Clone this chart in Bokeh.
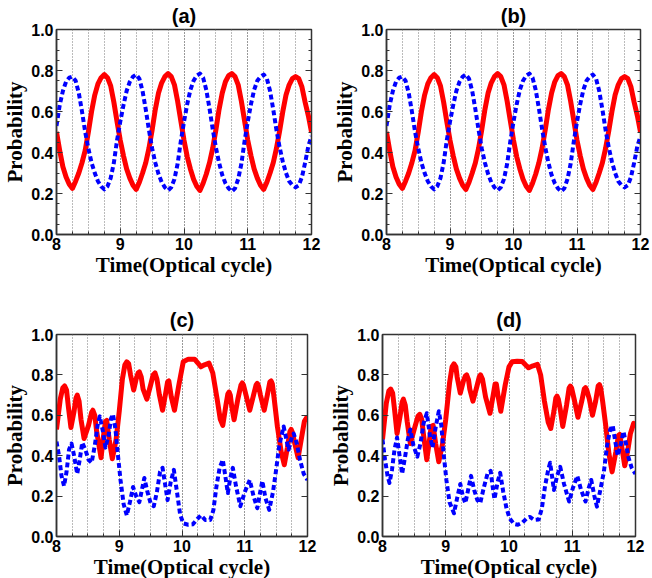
from bokeh.plotting import figure
from bokeh.models import Range1d, SingleIntervalTicker, LinearAxis, PrintfTickFormatter
from bokeh.layouts import column, row
from bokeh.embed import file_html
from bokeh.resources import INLINE

# ---------------- data ----------------
time_ab = [round(8 + 0.05 * i, 2) for i in range(81)]

red_a = [0.50, 0.41, 0.33, 0.28, 0.245, 0.225, 0.26, 0.30, 0.35, 0.41,
         0.50, 0.60, 0.68, 0.735, 0.765, 0.78, 0.765, 0.725, 0.645, 0.55,
         0.46, 0.385, 0.32, 0.275, 0.24, 0.22, 0.255, 0.30, 0.35, 0.42,
         0.51, 0.61, 0.69, 0.74, 0.77, 0.785, 0.77, 0.73, 0.65, 0.555,
         0.46, 0.38, 0.32, 0.27, 0.235, 0.215, 0.25, 0.295, 0.35, 0.42,
         0.51, 0.61, 0.69, 0.745, 0.775, 0.785, 0.77, 0.73, 0.65, 0.555,
         0.46, 0.385, 0.32, 0.275, 0.24, 0.22, 0.255, 0.30, 0.35, 0.42,
         0.505, 0.60, 0.68, 0.73, 0.76, 0.77, 0.76, 0.72, 0.645, 0.58,
         0.50]

blue_a = [0.53, 0.63, 0.70, 0.745, 0.765, 0.77, 0.75, 0.69, 0.60, 0.50,
          0.42, 0.35, 0.30, 0.26, 0.235, 0.22, 0.235, 0.275, 0.35, 0.46,
          0.55, 0.63, 0.70, 0.745, 0.77, 0.78, 0.76, 0.70, 0.61, 0.51,
          0.42, 0.35, 0.295, 0.255, 0.23, 0.215, 0.23, 0.27, 0.345, 0.455,
          0.55, 0.635, 0.705, 0.75, 0.775, 0.785, 0.765, 0.705, 0.615, 0.515,
          0.425, 0.35, 0.29, 0.25, 0.225, 0.21, 0.225, 0.27, 0.345, 0.455,
          0.55, 0.635, 0.705, 0.75, 0.77, 0.78, 0.76, 0.70, 0.61, 0.51,
          0.425, 0.355, 0.30, 0.26, 0.24, 0.23, 0.24, 0.28, 0.35, 0.43,
          0.48]

red_b = list(red_a)
blue_b = list(blue_a)

t_red_c = [8.00, 8.06, 8.10, 8.13, 8.16, 8.19, 8.23, 8.28, 8.31, 8.33, 8.36, 8.39, 8.44, 8.51, 8.56,
           8.58, 8.61, 8.64, 8.71, 8.75, 8.78, 8.80, 8.84, 8.89, 8.95, 9.00, 9.05, 9.09, 9.12, 9.15,
           9.18, 9.23, 9.27, 9.30, 9.32, 9.35, 9.38, 9.44, 9.50, 9.54, 9.57, 9.60, 9.64, 9.69, 9.74,
           9.77, 9.79, 9.83, 9.88, 9.95, 10.02, 10.10, 10.20, 10.25, 10.30, 10.36, 10.43, 10.49,
           10.56, 10.61, 10.65, 10.70, 10.73, 10.75, 10.77, 10.79, 10.83, 10.89, 10.94, 10.96, 10.98,
           11.02, 11.08, 11.14, 11.18, 11.20, 11.22, 11.25, 11.31, 11.36, 11.40, 11.42, 11.44, 11.47,
           11.52, 11.58, 11.63, 11.68, 11.72, 11.74, 11.76, 11.79, 11.85, 11.90, 11.95, 12.00]
red_c = [0.53, 0.68, 0.735, 0.745, 0.725, 0.64, 0.54, 0.62, 0.685, 0.70, 0.67, 0.58, 0.485, 0.55, 0.615,
         0.625, 0.60, 0.52, 0.39, 0.50, 0.57, 0.575, 0.48, 0.385, 0.48, 0.62, 0.78, 0.85, 0.865, 0.855,
         0.80, 0.725, 0.78, 0.81, 0.815, 0.79, 0.73, 0.68, 0.75, 0.80, 0.81, 0.78, 0.70, 0.625, 0.71,
         0.765, 0.77, 0.69, 0.625, 0.75, 0.865, 0.878, 0.878, 0.86, 0.84, 0.85, 0.858, 0.81,
         0.68, 0.58, 0.55, 0.65, 0.705, 0.715, 0.70, 0.65, 0.578, 0.68, 0.75, 0.76, 0.75,
         0.70, 0.625, 0.70, 0.75, 0.758, 0.745, 0.70, 0.625, 0.70, 0.765, 0.77, 0.755, 0.68,
         0.545, 0.42, 0.355, 0.44, 0.52, 0.53, 0.515, 0.47, 0.39, 0.48, 0.57, 0.595]

t_blue_c = [8.00, 8.04, 8.08, 8.12, 8.16, 8.20, 8.24, 8.28, 8.33, 8.37, 8.41, 8.46, 8.51, 8.56, 8.61,
            8.66, 8.69, 8.74, 8.78, 8.83, 8.87, 8.90, 8.94, 8.98, 9.02, 9.07, 9.12, 9.17, 9.22, 9.27,
            9.32, 9.36, 9.40, 9.45, 9.50, 9.55, 9.60, 9.65, 9.69, 9.73, 9.77, 9.82, 9.87, 9.92, 9.97,
            10.02, 10.10, 10.17, 10.24, 10.30, 10.37, 10.45, 10.50, 10.55, 10.60, 10.65, 10.69, 10.73,
            10.77, 10.81, 10.86, 10.93, 11.00, 11.08, 11.14, 11.20, 11.24, 11.28, 11.33, 11.39, 11.45,
            11.50, 11.55, 11.62, 11.67, 11.70, 11.74, 11.78, 11.83, 11.88, 11.94, 12.00]
blue_c = [0.47, 0.40, 0.30, 0.25, 0.32, 0.43, 0.46, 0.40, 0.31, 0.38, 0.465, 0.43, 0.38, 0.365, 0.45,
          0.56, 0.595, 0.52, 0.44, 0.50, 0.585, 0.605, 0.53, 0.40, 0.28, 0.16, 0.105, 0.17, 0.245, 0.20,
          0.17, 0.23, 0.29, 0.22, 0.165, 0.15, 0.22, 0.32, 0.34, 0.26, 0.18, 0.27, 0.33, 0.22, 0.11,
          0.065, 0.058, 0.06, 0.085, 0.105, 0.082, 0.082, 0.13, 0.25, 0.34, 0.38, 0.30, 0.215,
          0.29, 0.34, 0.25, 0.15, 0.22, 0.28, 0.20, 0.14, 0.21, 0.275, 0.19, 0.132, 0.22,
          0.33, 0.45, 0.545, 0.47, 0.43, 0.48, 0.51, 0.46, 0.38, 0.31, 0.28]

t_red_d = [8.00, 8.06, 8.10, 8.13, 8.16, 8.19, 8.23, 8.28, 8.31, 8.33, 8.36, 8.39, 8.44, 8.51, 8.56,
           8.59, 8.62, 8.65, 8.70, 8.74, 8.77, 8.80, 8.84, 8.89, 8.95, 9.00, 9.06, 9.10, 9.13, 9.16,
           9.18, 9.23, 9.28, 9.31, 9.33, 9.36, 9.38, 9.43, 9.49, 9.53, 9.55, 9.58, 9.63, 9.70, 9.75,
           9.78, 9.80, 9.83, 9.87, 9.94, 10.00, 10.05, 10.13, 10.21, 10.26, 10.31, 10.38, 10.45,
           10.50, 10.56, 10.62, 10.66, 10.71, 10.74, 10.76, 10.78, 10.81, 10.85, 10.91, 10.95, 10.97,
           10.99, 11.03, 11.09, 11.15, 11.19, 11.21, 11.23, 11.27, 11.32, 11.37, 11.41, 11.43, 11.45,
           11.48, 11.525, 11.58, 11.63, 11.69, 11.73, 11.75, 11.79, 11.83, 11.88, 11.92, 11.97, 12.00]
red_d = [0.48, 0.66, 0.72, 0.73, 0.71, 0.63, 0.51, 0.60, 0.665, 0.68, 0.65, 0.57, 0.46, 0.54, 0.595,
         0.605, 0.58, 0.50, 0.38, 0.47, 0.545, 0.55, 0.46, 0.37, 0.46, 0.58, 0.76, 0.84, 0.855, 0.84,
         0.79, 0.71, 0.77, 0.795, 0.80, 0.775, 0.73, 0.67, 0.74, 0.79, 0.80, 0.78, 0.69, 0.61, 0.70,
         0.755, 0.755, 0.69, 0.62, 0.75, 0.84, 0.865, 0.868, 0.866, 0.85, 0.835, 0.845, 0.852,
         0.80, 0.67, 0.565, 0.535, 0.62, 0.685, 0.695, 0.68, 0.63, 0.545, 0.65, 0.735, 0.745,
         0.735, 0.68, 0.59, 0.67, 0.73, 0.737, 0.725, 0.68, 0.60, 0.67, 0.745, 0.752, 0.735,
         0.67, 0.56, 0.41, 0.32, 0.42, 0.50, 0.505, 0.43, 0.35, 0.43, 0.51, 0.56, 0.555]

t_blue_d = [8.00, 8.04, 8.08, 8.11, 8.15, 8.19, 8.23, 8.27, 8.31, 8.36, 8.40, 8.44, 8.49, 8.55, 8.60,
            8.65, 8.70, 8.75, 8.79, 8.84, 8.89, 8.93, 8.97, 9.01, 9.06, 9.13, 9.18, 9.23, 9.27, 9.31,
            9.36, 9.40, 9.45, 9.50, 9.545, 9.60, 9.66, 9.71, 9.74, 9.77, 9.82, 9.86, 9.91, 9.96, 10.01,
            10.08, 10.14, 10.21, 10.28, 10.33, 10.40, 10.47, 10.52, 10.57, 10.62, 10.65, 10.68, 10.71,
            10.76, 10.81, 10.87, 10.95, 11.01, 11.08, 11.14, 11.21, 11.26, 11.30, 11.35, 11.39, 11.45,
            11.50, 11.55, 11.60, 11.64, 11.68, 11.72, 11.77, 11.81, 11.85, 11.89, 11.94, 12.00]
blue_d = [0.48, 0.38, 0.30, 0.265, 0.33, 0.43, 0.49, 0.40, 0.31, 0.40, 0.48, 0.53, 0.45, 0.395, 0.46,
          0.56, 0.61, 0.50, 0.44, 0.54, 0.62, 0.55, 0.40, 0.28, 0.17, 0.115, 0.19, 0.26, 0.20, 0.165,
          0.24, 0.30, 0.23, 0.18, 0.165, 0.24, 0.31, 0.325, 0.25, 0.185, 0.27, 0.315, 0.22, 0.14, 0.09,
          0.062, 0.058, 0.068, 0.09, 0.097, 0.082, 0.084, 0.14, 0.25, 0.33, 0.365, 0.30, 0.23,
          0.30, 0.345, 0.26, 0.173, 0.24, 0.30, 0.23, 0.173, 0.24, 0.28, 0.20, 0.148, 0.24,
          0.32, 0.45, 0.53, 0.55, 0.47, 0.40, 0.46, 0.52, 0.46, 0.39, 0.34, 0.31]

panel_titles = ["(a)", "(b)", "(c)", "(d)"]
x_label = "Time(Optical cycle)"
y_label = "Probability"

SANS = "Liberation Sans"
SERIF = "Liberation Serif"
FRAME = "#333333"


def make_panel(title, tr, vr, tb, vb, bl, br, bt, bb, fw, fh, minor_y, title_gap):
    p = figure(frame_width=fw, frame_height=fh, x_range=Range1d(8, 12), y_range=Range1d(0, 1),
               output_backend="svg", toolbar_location=None,
               min_border_left=bl, min_border_right=br, min_border_top=bt, min_border_bottom=bb,
               title=title)
    p.title.align = "center"
    p.title.text_font = SANS
    p.title.text_font_style = "bold"
    p.title.text_font_size = "20px"
    p.title.text_color = "black"
    p.title.standoff = title_gap
    p.background_fill_color = "white"
    p.border_fill_color = "white"
    p.outline_line_color = FRAME
    p.outline_line_width = 1.5

    p.xaxis.ticker = SingleIntervalTicker(interval=1, num_minor_ticks=4)
    p.yaxis.ticker = SingleIntervalTicker(interval=0.2, num_minor_ticks=minor_y)
    p.xaxis.formatter = PrintfTickFormatter(format="%d")
    p.yaxis.formatter = PrintfTickFormatter(format="%.1f")
    for ax in (p.xaxis[0], p.yaxis[0]):
        ax.major_label_text_font = SANS
        ax.major_label_text_font_style = "bold"
        ax.major_label_text_font_size = "16px"
        ax.major_label_text_color = "black"
        ax.axis_label_text_font = SERIF
        ax.axis_label_text_font_style = "bold"
        ax.axis_label_text_font_size = "21px"
        ax.axis_label_text_color = "black"
        ax.axis_line_color = FRAME
        ax.axis_line_width = 1.5
        ax.major_tick_in = 6
        ax.major_tick_out = 0
        ax.minor_tick_in = 3
        ax.minor_tick_out = 0
        ax.major_tick_line_color = FRAME
        ax.minor_tick_line_color = FRAME
    p.xaxis.axis_label = x_label
    p.yaxis.axis_label = y_label
    p.xaxis.major_label_standoff = 3
    p.xaxis.axis_label_standoff = 0
    p.yaxis.major_label_standoff = 3
    p.yaxis.axis_label_standoff = 1

    ra = LinearAxis(ticker=SingleIntervalTicker(interval=0.2, num_minor_ticks=minor_y),
                    major_label_text_font_size="1px", major_label_text_color=None,
                    major_label_standoff=0,
                    major_tick_in=6, major_tick_out=0, minor_tick_in=3, minor_tick_out=0,
                    axis_line_color=FRAME, major_tick_line_color=FRAME, minor_tick_line_color=FRAME)
    p.add_layout(ra, "right")

    p.ygrid.grid_line_color = None
    p.xgrid.ticker = SingleIntervalTicker(interval=1, num_minor_ticks=4)
    p.xgrid.grid_line_color = "#777777"
    p.xgrid.grid_line_dash = "1 2"
    p.xgrid.grid_line_width = 1
    p.xgrid.minor_grid_line_color = "#777777"
    p.xgrid.minor_grid_line_dash = "1 2"
    p.xgrid.minor_grid_line_width = 1

    p.line(tr, vr, line_color="#ff0000", line_width=5, line_join="round")
    p.line(tb, vb, line_color="#0000ff", line_width=4, line_dash="5 3", line_join="round")
    return p


pa = make_panel(panel_titles[0], time_ab, red_a, time_ab, blue_a, 50, 12, 26, 45, 255, 205, 4, 5)
pb = make_panel(panel_titles[1], time_ab, red_b, time_ab, blue_b, 63, 10, 26, 45, 254, 205, 4, 5)
pc = make_panel(panel_titles[2], t_red_c, red_c, t_blue_c, blue_c, 54, 12, 55, 41, 251, 202, 1, 8)
pd = make_panel(panel_titles[3], t_red_d, red_d, t_blue_d, blue_d, 63, 11, 55, 41, 253, 202, 1, 8)

layout = column(row(pa, pb), row(pc, pd))
open("out.html", "w").write(file_html(layout, INLINE))
